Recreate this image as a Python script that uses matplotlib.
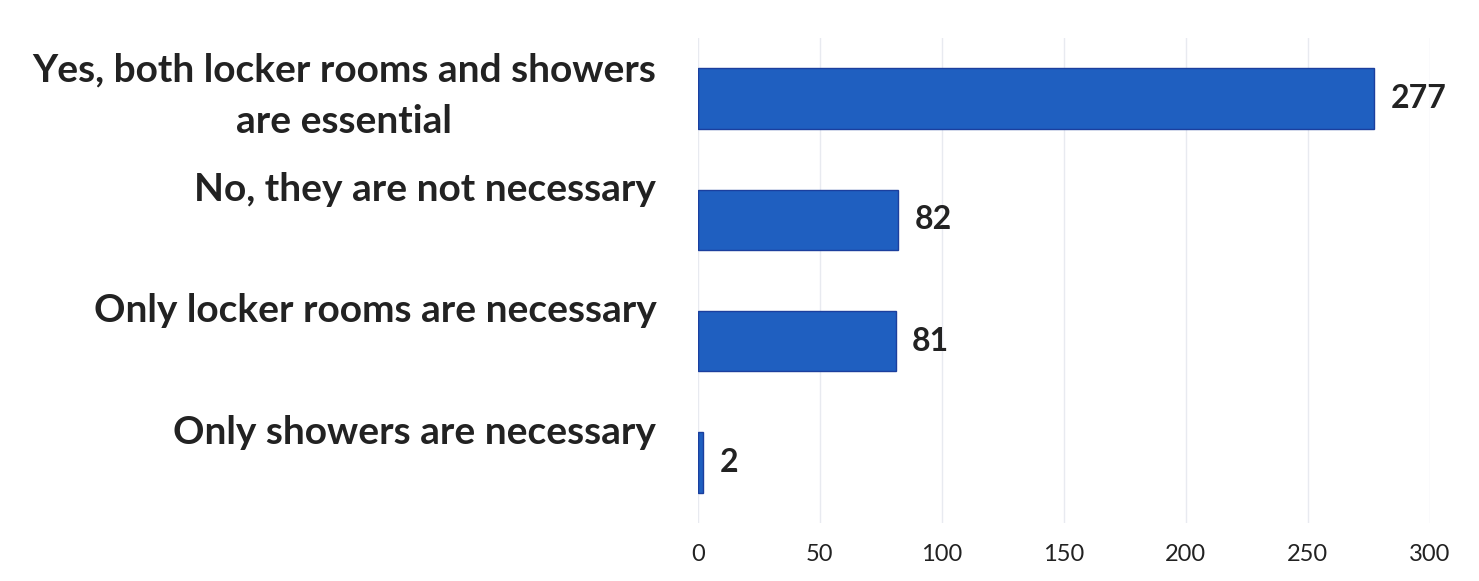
import matplotlib.pyplot as plt
import matplotlib.transforms as mtransforms

# survey answers, top to bottom
answers = [
    "Yes, both locker rooms and showers\nare essential",
    "No, they are not necessary",
    "Only locker rooms are necessary",
    "Only showers are necessary",
]
counts = [277, 82, 81, 2]
x_ticks = [0, 50, 100, 150, 200, 250, 300]

plt.rcParams['font.family'] = ['Lato', 'DejaVu Sans']

fig = plt.figure(figsize=(14.79, 5.81), dpi=100)
ax = fig.add_axes([0.4719, 0.0998, 0.4949, 0.8348])

y_pos = list(range(len(answers)))
bars = ax.barh(y_pos, counts, height=0.5, color='#1F5FC0', edgecolor='#1B3F9E', linewidth=1)

ax.set_xlim(0, 300)
ax.set_ylim(3.5, -0.5)
ax.set_xticks(x_ticks)
ax.set_xticklabels([str(t) for t in x_ticks], fontsize=17, color='#222222')
ax.set_yticks(y_pos)
ax.set_yticklabels(answers, fontsize=28, fontweight='bold', color='#222222',
                   multialignment='center', linespacing=1.55)
ax.tick_params(axis='both', length=0)
ax.tick_params(axis='y', pad=30)
ax.tick_params(axis='x', pad=15)

# single-line labels sit above their bars, like the original export
for i, lab in enumerate(ax.get_yticklabels()):
    dy = -10 if i == 0 else -24
    lab.set_transform(lab.get_transform() + mtransforms.ScaledTranslation(0, -dy / 72, fig.dpi_scale_trans))

ax.grid(axis='x', color='#E8EAF0', linewidth=1)
ax.set_axisbelow(True)
for s in ax.spines.values():
    s.set_visible(False)

for b, v in zip(bars, counts):
    ax.annotate(str(v), (b.get_width(), b.get_y() + b.get_height() / 2),
                xytext=(12, 0), textcoords='offset points', va='center', ha='left',
                fontsize=23, fontweight='bold', color='#222222')

fig.savefig('out.png', dpi=100, facecolor='white')
